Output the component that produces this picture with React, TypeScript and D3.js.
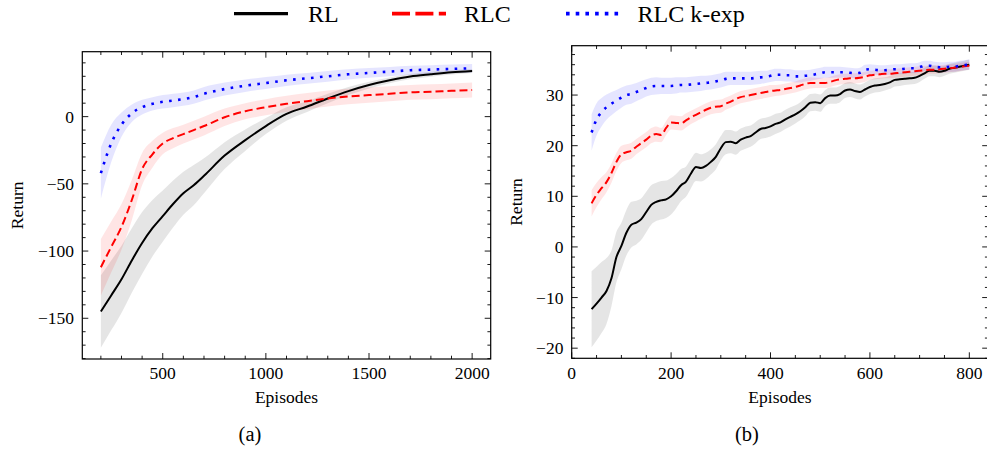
import React from 'react';
import * as d3 from 'd3';

// ---------- data ----------
const seriesNames = ['RL', 'RLC', 'RLC k-exp'];

// panel (a)
const leftX = [200, 250, 300, 350, 400, 450, 500, 550, 600, 650, 700, 800, 900, 1000, 1100, 1200, 1300, 1400, 1500, 1600, 1700, 1800, 1900, 2000];
const rlA = [-145, -133, -121, -107, -94, -83, -74, -65, -57, -51, -44, -29, -17.5, -7, 2, 7.5, 13.5, 19, 23.5, 27, 29.8, 31.5, 33, 34];
const rlASd = [27, 26, 25, 24, 23, 21, 19, 17.5, 16, 15, 13, 10, 8, 6, 5, 4, 3.5, 3, 2.5, 2.2, 2, 1.8, 1.6, 1.5];
const rlcA = [-112, -97, -82, -62, -39, -28, -20, -16, -13, -10, -7, -0.5, 4, 7, 9.5, 11.5, 13.5, 15, 16, 17, 18, 18.5, 19.2, 19.8];
const rlcASd = [21, 19, 17, 15, 12, 10, 8, 7.5, 7, 7, 7, 6.5, 6, 6, 6, 6, 6, 5.8, 5.7, 5.6, 5.5, 5.5, 5.5, 5.5];
const kexpA = [-42, -20, -6, 2.5, 7, 9.5, 11, 12, 13, 14.5, 17, 20.5, 23, 25, 27, 28.5, 30, 31.5, 32.5, 33.5, 34.5, 35, 35.5, 36];
const kexpASd = [19, 14, 9, 6.5, 5.5, 5, 5, 5, 5, 5, 5, 4.8, 4.6, 4.4, 4.2, 4, 4, 3.8, 3.6, 3.5, 3.4, 3.3, 3.2, 3.2];

// panel (b)
const rightX = [40, 50, 60, 70, 80, 90, 100, 110, 120, 130,
  140, 150, 160, 170, 180, 190, 200, 210, 220, 230,
  240, 250, 260, 270, 280, 290, 300, 310, 320, 330,
  340, 350, 360, 370, 380, 390, 400, 410, 420, 430,
  440, 450, 460, 470, 480, 490, 500, 510, 520, 530,
  540, 550, 560, 570, 580, 590, 600, 610, 620, 630,
  640, 650, 660, 670, 680, 690, 700, 710, 720, 730,
  740, 750, 760, 770, 780, 790, 800];
const rlB = [-12.3, -11.2, -10.0, -8.7, -6.2, -2.0, 0.2, 2.8, 4.4, 4.8,
  5.5, 6.9, 8.3, 8.9, 9.2, 9.4, 10.0, 11.0, 12.2, 12.9,
  14.5, 15.8, 15.6, 16.0, 16.8, 17.8, 19.5, 20.7, 20.8, 20.5,
  21.2, 21.6, 21.9, 22.6, 23.3, 23.5, 23.8, 24.3, 24.6, 25.2,
  25.7, 26.2, 26.8, 27.6, 28.5, 28.6, 28.4, 29.4, 29.9, 29.9,
  30.2, 30.9, 31.1, 30.8, 30.6, 31.1, 31.6, 31.9, 32.0, 32.2,
  32.5, 33.0, 33.1, 33.2, 33.3, 33.4, 33.8, 34.3, 34.8, 34.8,
  34.6, 34.8, 35.2, 35.4, 35.6, 35.8, 36.0];
const rlBSd = [7.5, 7.3, 7.0, 6.5, 5.5, 5.0, 4.6, 4.5, 4.5, 4.3,
  4.1, 4.0, 3.9, 3.8, 3.8, 3.7, 3.6, 3.4, 3.2, 3.0,
  2.9, 2.8, 2.7, 2.6, 2.5, 2.5, 2.4, 2.4, 2.3, 2.3,
  2.2, 2.2, 2.1, 2.1, 2.0, 2.0, 2.0, 2.0, 1.9, 1.9,
  1.9, 1.8, 1.8, 1.8, 1.7, 1.7, 1.7, 1.6, 1.6, 1.6,
  1.6, 1.5, 1.5, 1.5, 1.5, 1.4, 1.4, 1.4, 1.4, 1.3,
  1.3, 1.3, 1.3, 1.2, 1.2, 1.2, 1.2, 1.1, 1.1, 1.1,
  1.1, 1.0, 1.0, 1.0, 1.0, 1.0, 1.0];
const rlcB = [8.6, 10.3, 11.6, 12.8, 14.6, 16.8, 18.3, 18.7, 19.0, 19.8,
  20.5, 21.2, 22.0, 22.3, 22.1, 23.5, 24.6, 24.5, 24.4, 25.0,
  25.6, 26.1, 26.6, 27.1, 27.5, 27.7, 27.8, 28.3, 28.7, 29.2,
  29.6, 29.8, 30.0, 30.2, 30.4, 30.6, 30.8, 30.9, 31.0, 31.2,
  31.4, 31.6, 31.9, 32.2, 32.4, 32.4, 32.4, 32.4, 32.6, 32.9,
  33.1, 33.2, 33.3, 33.3, 33.4, 33.6, 33.9, 34.0, 34.1, 34.2,
  34.2, 34.3, 34.4, 34.5, 34.6, 34.7, 34.8, 34.9, 35.0, 35.0,
  35.1, 35.2, 35.3, 35.4, 35.5, 35.7, 35.8];
const rlcBSd = [2.6, 2.4, 2.2, 2.0, 1.9, 1.8, 1.7, 1.6, 1.6, 1.5,
  1.5, 1.5, 1.5, 1.5, 1.4, 1.4, 1.4, 1.4, 1.4, 1.4,
  1.3, 1.3, 1.3, 1.3, 1.3, 1.3, 1.3, 1.2, 1.2, 1.2,
  1.2, 1.2, 1.2, 1.2, 1.2, 1.2, 1.2, 1.1, 1.1, 1.1,
  1.1, 1.1, 1.1, 1.1, 1.1, 1.0, 1.0, 1.0, 1.0, 1.0,
  1.0, 1.0, 1.0, 1.0, 1.0, 1.0, 0.9, 0.9, 0.9, 0.9,
  0.9, 0.9, 0.9, 0.9, 0.9, 0.9, 0.9, 0.9, 0.8, 0.8,
  0.8, 0.8, 0.8, 0.8, 0.8, 0.8, 0.8];
const kexpB = [22.6, 25.2, 26.6, 27.6, 28.3, 28.9, 29.5, 30.0, 30.2, 30.6,
  31.0, 31.4, 31.7, 31.8, 31.8, 31.8, 31.8, 31.9, 32.0, 32.0,
  32.1, 32.2, 32.3, 32.4, 32.5, 32.7, 32.9, 33.2, 33.3, 33.3,
  33.3, 33.3, 33.3, 33.4, 33.5, 33.6, 33.8, 34.0, 34.0, 33.9,
  33.9, 33.7, 33.7, 33.8, 33.9, 34.1, 34.3, 34.5, 34.5, 34.5,
  34.5, 34.5, 34.4, 34.3, 34.4, 35.0, 35.1, 35.0, 34.9, 34.9,
  35.0, 35.1, 35.1, 35.2, 35.3, 35.3, 35.5, 35.8, 35.8, 35.6,
  35.5, 35.5, 35.6, 35.6, 35.8, 35.9, 36.0];
const kexpBSd = [3.6, 3.2, 2.8, 2.5, 2.3, 2.1, 2.0, 1.9, 1.9, 1.8,
  1.8, 1.7, 1.7, 1.7, 1.6, 1.6, 1.6, 1.6, 1.5, 1.5,
  1.5, 1.5, 1.5, 1.4, 1.4, 1.4, 1.4, 1.4, 1.3, 1.3,
  1.3, 1.3, 1.3, 1.3, 1.3, 1.2, 1.2, 1.2, 1.2, 1.2,
  1.2, 1.2, 1.2, 1.1, 1.1, 1.1, 1.1, 1.1, 1.1, 1.1,
  1.1, 1.0, 1.0, 1.0, 1.0, 1.0, 1.0, 1.0, 1.0, 1.0,
  1.0, 1.0, 1.0, 1.0, 1.0, 1.0, 1.0, 1.0, 1.0, 1.0,
  1.0, 1.0, 1.0, 1.0, 1.0, 1.0, 1.0];

// ticks
const leftXTicks = [500, 1000, 1500, 2000];
const leftYTicks = [-150, -100, -50, 0];
const rightXTicks = [0, 200, 400, 600, 800];
const rightYTicks = [-20, -10, 0, 10, 20, 30];
const xLabel = 'Episodes';
const yLabel = 'Return';
const captions = ['(a)', '(b)'];

// ---------- styling ----------
const W = 987;
const H = 454;
const FONT = "'Liberation Serif', 'DejaVu Serif', serif";
const colors = ['#000000', '#ff0000', '#0000ff'];
const dashes = [null, '8 4', '2.6 6.4'];
const widths = [2, 2, 2.6];

const fmt = (v: number) => (v < 0 ? '\u2212' + Math.abs(v) : String(v));

type PanelProps = {
  id: string;
  box: { l: number; r: number; t: number; b: number };
  xDomain: [number, number];
  yDomain: [number, number];
  xTicks: number[];
  yTicks: number[];
  xMinorStep: number;
  yMinorStep: number;
  xs: number[];
  means: number[][];
  sds: number[][];
  yLabelX: number;
  caption: string;
  captionX: number;
};

function Panel(p: PanelProps) {
  const { l, r, t, b } = p.box;
  const x = d3.scaleLinear().domain(p.xDomain).range([l, r]);
  const y = d3.scaleLinear().domain(p.yDomain).range([b, t]);
  const eps = 1e-6;
  const xMinor = d3
    .range(Math.ceil(p.xDomain[0] / p.xMinorStep) * p.xMinorStep, p.xDomain[1] + eps, p.xMinorStep)
    .filter((v) => !p.xTicks.includes(v));
  const yMinor = d3
    .range(Math.ceil(p.yDomain[0] / p.yMinorStep) * p.yMinorStep, p.yDomain[1] + eps, p.yMinorStep)
    .filter((v) => !p.yTicks.some((tk) => Math.abs(tk - v) < 1e-6));
  const major = 6;
  const minor = 3.3;
  const line = (vals: number[]) =>
    d3
      .line<number>()
      .x((_, i) => x(p.xs[i]))
      .y((d) => y(d))
      .curve(d3.curveMonotoneX)(vals) || '';
  const area = (vals: number[], sd: number[]) =>
    d3
      .area<number>()
      .x((_, i) => x(p.xs[i]))
      .y0((d, i) => y(d - sd[i]))
      .y1((d, i) => y(d + sd[i]))
      .curve(d3.curveMonotoneX)(vals) || '';
  const cx = (l + r) / 2;
  const cy = (t + b) / 2;
  return (
    <g>
      <defs>
        <clipPath id={p.id}>
          <rect x={l} y={t} width={r - l} height={b - t} />
        </clipPath>
      </defs>
      <g clipPath={`url(#${p.id})`}>
        {p.means.map((m, i) => (
          <path key={'a' + i} d={area(m, p.sds[i])} fill={colors[i]} fillOpacity={0.1} stroke="none" />
        ))}
        {p.means.map((m, i) => (
          <path
            key={'l' + i}
            d={line(m)}
            fill="none"
            stroke={colors[i]}
            strokeWidth={widths[i]}
            strokeDasharray={dashes[i] || undefined}
            strokeLinejoin="round"
          />
        ))}
      </g>
      {/* ticks */}
      <g stroke="#000" strokeWidth={0.9}>
        {p.xTicks.map((v) => (
          <g key={'xt' + v}>
            <line x1={x(v)} x2={x(v)} y1={b} y2={b - major} />
            <line x1={x(v)} x2={x(v)} y1={t} y2={t + major} />
          </g>
        ))}
        {xMinor.map((v) => (
          <g key={'xm' + v}>
            <line x1={x(v)} x2={x(v)} y1={b} y2={b - minor} />
            <line x1={x(v)} x2={x(v)} y1={t} y2={t + minor} />
          </g>
        ))}
        {p.yTicks.map((v) => (
          <g key={'yt' + v}>
            <line x1={l} x2={l + major} y1={y(v)} y2={y(v)} />
            <line x1={r} x2={r - major} y1={y(v)} y2={y(v)} />
          </g>
        ))}
        {yMinor.map((v) => (
          <g key={'ym' + v}>
            <line x1={l} x2={l + minor} y1={y(v)} y2={y(v)} />
            <line x1={r} x2={r - minor} y1={y(v)} y2={y(v)} />
          </g>
        ))}
      </g>
      <rect x={l} y={t} width={r - l} height={b - t} fill="none" stroke="#000" strokeWidth={1.2} />
      {/* tick labels */}
      <g fontFamily={FONT} fontSize={17.5} fill="#000">
        {p.xTicks.map((v) => (
          <text key={'xl' + v} x={x(v)} y={379} textAnchor="middle">
            {fmt(v)}
          </text>
        ))}
        {p.yTicks.map((v) => (
          <text key={'yl' + v} x={l - 8.3} y={y(v)} dy="0.34em" textAnchor="end">
            {fmt(v)}
          </text>
        ))}
        <text x={cx} y={403} textAnchor="middle">
          {xLabel}
        </text>
        <text transform={`translate(${p.yLabelX},${cy}) rotate(-90)`} textAnchor="middle">
          {yLabel}
        </text>
      </g>
      <text x={p.captionX} y={441} textAnchor="middle" fontFamily={FONT} fontSize={20.5} fill="#000">
        {p.caption}
      </text>
    </g>
  );
}

function Legend() {
  const items = [
    { lx: 234, tx: 308, dash: null as string | null, w: 3.3 },
    { lx: 392, tx: 464, dash: '18 5.4', w: 3.6 },
    { lx: 566, tx: 637.5, dash: '3.6 6.1', w: 3.6 },
  ];
  const ly = 13.6;
  return (
    <g>
      {items.map((it, i) => (
        <g key={i}>
          <line
            x1={it.lx}
            x2={it.lx + 54}
            y1={ly}
            y2={ly}
            stroke={colors[i]}
            strokeWidth={it.w}
            strokeDasharray={it.dash || undefined}
          />
          <text x={it.tx} y={22.3} fontFamily={FONT} fontSize={24} fill="#000">
            {seriesNames[i]}
          </text>
        </g>
      ))}
    </g>
  );
}

export default function App() {
  return (
    <svg
      width={W}
      height={H}
      viewBox={`0 0 ${W} ${H}`}
      style={{ position: 'absolute', left: 0, top: 0, background: '#fff' }}
    >
      <rect x={0} y={0} width={W} height={H} fill="#fff" />
      <Legend />
      <Panel
        id="clipA"
        box={{ l: 82.3, r: 490.7, t: 51.7, b: 359 }}
        xDomain={[110, 2090]}
        yDomain={[-180.3, 48.3]}
        xTicks={leftXTicks}
        yTicks={leftYTicks}
        xMinorStep={100}
        yMinorStep={10}
        xs={leftX}
        means={[rlA, rlcA, kexpA]}
        sds={[rlASd, rlcASd, kexpASd]}
        yLabelX={23.3}
        caption={captions[0]}
        captionX={250}
      />
      <Panel
        id="clipB"
        box={{ l: 571.7, r: 988.2, t: 45.7, b: 358.3 }}
        xDomain={[0, 838]}
        yDomain={[-22, 39.75]}
        xTicks={rightXTicks}
        yTicks={rightYTicks}
        xMinorStep={50}
        yMinorStep={2}
        xs={rightX}
        means={[rlB, rlcB, kexpB]}
        sds={[rlBSd, rlcBSd, kexpBSd]}
        yLabelX={521.7}
        caption={captions[1]}
        captionX={747}
      />
    </svg>
  );
}
